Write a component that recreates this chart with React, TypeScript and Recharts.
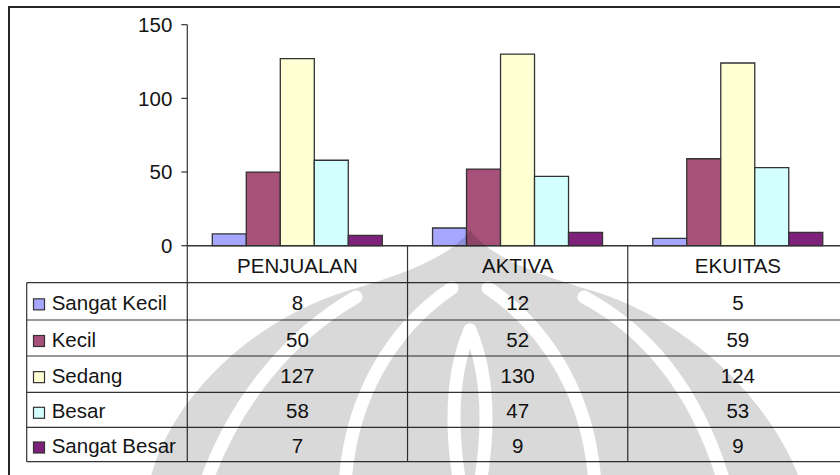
import React from 'react';
import { BarChart, Bar, XAxis, YAxis } from 'recharts';

// ---- data ----
const categories = ['PENJUALAN', 'AKTIVA', 'EKUITAS'];
const seriesNames = ['Sangat Kecil', 'Kecil', 'Sedang', 'Besar', 'Sangat Besar'];
const sangatKecil = [8, 12, 5];
const kecil = [50, 52, 59];
const sedang = [127, 130, 124];
const besar = [58, 47, 53];
const sangatBesar = [7, 9, 9];
const yTicks = [0, 50, 100, 150];

const seriesValues = [sangatKecil, kecil, sedang, besar, sangatBesar];
const seriesKeys = ['sangatKecil', 'kecil', 'sedang', 'besar', 'sangatBesar'];
const seriesColors = ['#a6a6ff', '#a6507a', '#ffffd4', '#d4ffff', '#7d217a'];

const data = categories.map((name, i) => {
  const row: Record<string, string | number> = { name };
  seriesKeys.forEach((k, s) => {
    row[k] = seriesValues[s][i];
  });
  return row;
});

// ---- layout ----
const CHART_W = 860;
const CHART_H = 475;
const M_TOP = 24.7;
const M_RIGHT = 12;
const Y_W = 187.3;
const PLOT_H = 221;
const X_H = CHART_H - M_TOP - PLOT_H;
const BAND = (CHART_W - M_RIGHT - Y_W) / categories.length;
const ROW_LINES = [37, 74.3, 110.3, 146.6, 181.6, 216];
const LEGEND_LEFT = 26.7;
const FONT = '"Liberation Sans", Arial, sans-serif';
const FONT_SIZE = 20.5;
const TEXT = '#141414';
const LINE = '#333333';

const TableTick = (props: any) => {
  const { x, y, payload, index } = props;
  const i = typeof index === 'number' ? index : categories.indexOf(payload.value);
  const left = x - BAND / 2;
  const right = x + BAND / 2;
  const bottom = y + ROW_LINES[ROW_LINES.length - 1];
  const els: React.ReactNode[] = [];

  // header text
  els.push(
    <text key="hdr" x={x} y={y + ROW_LINES[0] / 2 + 1} textAnchor="middle" dominantBaseline="central"
      fontFamily={FONT} fontSize={FONT_SIZE} fill={TEXT}>{payload.value}</text>
  );
  // vertical lines
  els.push(<line key="vr" x1={right} x2={right} y1={y} y2={bottom} stroke={LINE} strokeWidth={1.2} />);
  if (i === 0) {
    els.push(<line key="vl" x1={left} x2={left} y1={y} y2={bottom} stroke={LINE} strokeWidth={1.2} />);
  }
  // horizontal lines
  ROW_LINES.forEach((ry, r) => {
    els.push(<line key={'h' + r} x1={i === 0 ? LEGEND_LEFT : left} x2={right} y1={y + ry} y2={y + ry}
      stroke={LINE} strokeWidth={1.2} />);
  });
  // values
  seriesValues.forEach((vals, s) => {
    const cy = y + (ROW_LINES[s] + ROW_LINES[s + 1]) / 2;
    els.push(
      <text key={'v' + s} x={x} y={cy + 1} textAnchor="middle" dominantBaseline="central"
        fontFamily={FONT} fontSize={FONT_SIZE} fill={TEXT}>{vals[i]}</text>
    );
  });
  // legend column
  if (i === 0) {
    els.push(<line key="ll" x1={LEGEND_LEFT} x2={LEGEND_LEFT} y1={y + ROW_LINES[0]} y2={bottom}
      stroke={LINE} strokeWidth={1.2} />);
    seriesNames.forEach((nm, s) => {
      const cy = y + (ROW_LINES[s] + ROW_LINES[s + 1]) / 2;
      els.push(<rect key={'k' + s} x={33.5} y={cy - 2.5} width={11} height={11}
        fill={seriesColors[s]} stroke={LINE} strokeWidth={1.2} />);
      els.push(
        <text key={'n' + s} x={51.7} y={cy + 1} textAnchor="start" dominantBaseline="central"
          fontFamily={FONT} fontSize={FONT_SIZE} fill={TEXT}>{nm}</text>
      );
    });
  }
  return <g>{els}</g>;
};

const Watermark = () => (
  <svg width={840} height={475} style={{ position: 'absolute', left: 0, top: 0, pointerEvents: 'none' }}>
    <defs>
      <mask id="wm">
        <rect x={0} y={0} width={840} height={475} fill="black" />
        <path d="M150,480 C170,400 250,320 350,290 C400,275 450,258 470,230 C490,258 540,275 590,290 C690,320 770,400 800,480 Z" fill="white" />
        <g fill="none" stroke="black" strokeWidth={13} strokeLinecap="round">
          <path d="M205,485 C235,400 290,335 356,297" />
          <path d="M725,485 C700,400 655,335 584,297" />
          <path d="M345,485 C350,400 390,330 452,288" />
          <path d="M595,485 C590,400 550,330 488,288" />
          <path d="M470,330 C452,372 450,425 460,485" />
          <path d="M470,330 C488,372 490,425 480,485" />
        </g>
      </mask>
    </defs>
    <rect x={0} y={0} width={840} height={475} fill="#000" fillOpacity={0.15} mask="url(#wm)" />
  </svg>
);

export default function App() {
  return (
    <div style={{ position: 'absolute', left: 0, top: 0, width: 840, height: 475, overflow: 'hidden', background: '#fff' }}>
      <div style={{ position: 'absolute', left: 8, top: 6, width: 900, height: 600, border: '2px solid #262626', boxSizing: 'border-box' }} />
      <div style={{ position: 'absolute', left: 0, top: 0 }}>
        <BarChart width={CHART_W} height={CHART_H} data={data} barGap={0} barSize={34}
          margin={{ top: M_TOP, right: M_RIGHT, bottom: 0, left: 0 }}>
          <XAxis dataKey="name" height={X_H} interval={0} tickLine={false} tickSize={0} tickMargin={0}
            axisLine={{ stroke: LINE, strokeWidth: 1.5 }} tick={<TableTick />} />
          <YAxis width={Y_W} domain={[0, 150]} ticks={yTicks} interval={0} tickSize={6} tickMargin={9}
            axisLine={{ stroke: LINE, strokeWidth: 1.2 }} tickLine={{ stroke: LINE, strokeWidth: 1.2 }}
            tick={{ fill: TEXT, fontSize: FONT_SIZE, fontFamily: FONT }} />
          {seriesKeys.map((k, s) => (
            <Bar key={k} dataKey={k} name={seriesNames[s]} fill={seriesColors[s]} stroke={LINE}
              strokeWidth={1.3} isAnimationActive={false} />
          ))}
        </BarChart>
      </div>
      <Watermark />
    </div>
  );
}
